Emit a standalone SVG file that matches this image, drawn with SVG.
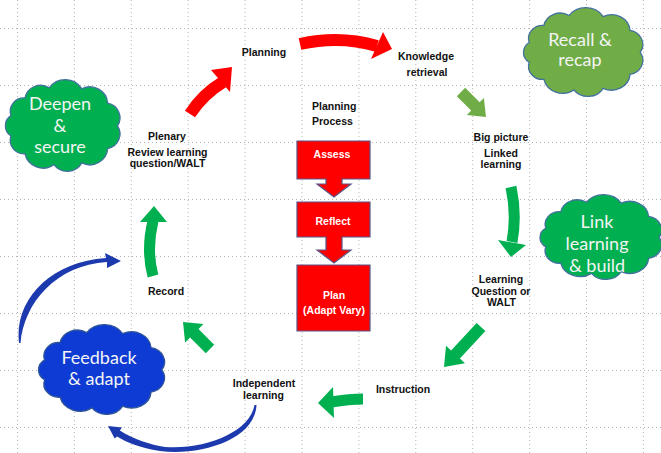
<svg xmlns="http://www.w3.org/2000/svg" xmlns:xlink="http://www.w3.org/1999/xlink" width="661" height="453" viewBox="0 0 661 453">
<style>
.grid line{stroke:#b4b4b4;stroke-width:1;stroke-dasharray:1 3}
.lbl{font-family:"Liberation Sans",Arial,sans-serif;font-weight:bold;font-size:10.5px;fill:#111;text-anchor:middle}
.box{fill:#ff0000;stroke:#5b5486;stroke-width:1.2}
.btxt{font-family:"Liberation Sans",Arial,sans-serif;font-weight:bold;font-size:10.5px;fill:#fff;text-anchor:middle}
.ctxt{font-family:Lato,"Liberation Sans",sans-serif;font-size:18px;fill:#f4f4f4;text-anchor:middle}
.red{fill:#ff0000}
.redl{fill:none;stroke:#ff0000;stroke-width:12}
.grn{fill:#00b050}
.grnl{fill:none;stroke:#00b050;stroke-width:11}
.olv{fill:#70ad47}
.blu{fill:#1c3aae}
</style>
<defs>
<path id="cloud" vector-effect="non-scaling-stroke" d="M92,40 A11.6,11.6 0 0 1 84.4,57.8 A13.8,13.8 0 0 1 64.4,69.1 A13,13 0 0 1 42.7,70.5 A14.4,14.4 0 0 1 20.3,61.9 A10.6,10.6 0 0 1 9.4,48 A9.6,9.6 0 0 1 9.4,32 A10.6,10.6 0 0 1 20.3,18.1 A12.3,12.3 0 0 1 39.1,10.1 A15.2,15.2 0 0 1 64.4,10.9 A13.8,13.8 0 0 1 84.4,22.2 A11.6,11.6 0 0 1 92,40 Z"/>
</defs>
<rect width="661" height="453" fill="#fff"/>
<g class="grid">
<line x1="17.5" y1="0" x2="17.5" y2="453"/><line x1="74.4" y1="0" x2="74.4" y2="453"/><line x1="131.3" y1="0" x2="131.3" y2="453"/><line x1="188.2" y1="0" x2="188.2" y2="453"/><line x1="245.1" y1="0" x2="245.1" y2="453"/><line x1="302" y1="0" x2="302" y2="453"/><line x1="358.9" y1="0" x2="358.9" y2="453"/><line x1="415.8" y1="0" x2="415.8" y2="453"/><line x1="472.7" y1="0" x2="472.7" y2="453"/><line x1="529.6" y1="0" x2="529.6" y2="453"/><line x1="586.5" y1="0" x2="586.5" y2="453"/><line x1="643.4" y1="0" x2="643.4" y2="453"/>
<line x1="0" y1="28.5" x2="661" y2="28.5"/><line x1="0" y1="85.5" x2="661" y2="85.5"/><line x1="0" y1="142.5" x2="661" y2="142.5"/><line x1="0" y1="199.5" x2="661" y2="199.5"/><line x1="0" y1="256.5" x2="661" y2="256.5"/><line x1="0" y1="313.5" x2="661" y2="313.5"/><line x1="0" y1="370.5" x2="661" y2="370.5"/><line x1="0" y1="427.5" x2="661" y2="427.5"/>
</g>
<g id="connectors">
<path class="redl" d="M300,44 Q340,35 377,46"/>
<polygon class="red" points="383,32 392,49 371,59"/>
<path class="redl" d="M190,114 Q203,94 223,82" stroke-width="11"/>
<polygon class="red" points="211,70 232,67 230,92"/>
<polygon class="olv" points="465.2,87.8 479.6,102.2 483.9,97.9 486,117 466.9,114.9 471.2,110.6 456.8,96.2"/>
<path class="grnl" d="M511,187 Q517,215 512,242"/>
<polygon class="grn" points="498,240 526,245 511,257"/>
<polygon class="grn" points="476.6,322.9 451.1,350.4 446,345.7 444,367 465,363.3 459.9,358.6 485.4,331.1"/>
<path class="grnl" d="M363,399 Q350,399 331,402" stroke-width="12"/>
<polygon class="grn" points="333,387 318,403 334,418"/>
<polygon class="grn" points="205.8,353.2 190.1,337.5 185.1,342.5 183,322 203.5,324.1 198.5,329.1 214.2,344.8"/>
<path class="grnl" d="M153,276 Q146,250 153,221"/>
<polygon class="grn" points="140,222 167,222 154,206"/>
<path class="blu" d="M19,343 C14,300 50,262 106,258 L105,253 L121,261 L107,268 L107,262 C56,265 24,303 20.5,343 Z"/>
<path class="blu" d="M256.5,405 C255,440 200,456 160,451 C140,448 126,442 117,436.5 L114.7,438.5 L108,426 L122,427.6 L119.8,430.5 C134,439.5 150,444.5 165,447 C205,450 250,432 254.5,405 Z"/>
</g>
<g id="node-recall">
<use href="#cloud" xlink:href="#cloud" fill="#70ad47" stroke="#41719c" stroke-width="1.3" transform="translate(516.6,3.1) scale(1.344,1.233)"/>
<text class="ctxt" x="580" y="46" font-size="17">Recall &amp;</text>
<text class="ctxt" x="580" y="66" font-size="17">recap</text>
</g>
<g id="node-link">
<use href="#cloud" xlink:href="#cloud" fill="#00b050" stroke="#41719c" stroke-width="1.3" transform="translate(533,190.3) scale(1.37,1.178)"/>
<text class="ctxt" x="597" y="228" font-size="19">Link</text>
<text class="ctxt" x="597" y="250" font-size="19">learning</text>
<text class="ctxt" x="597" y="272" font-size="19">&amp; build</text>
</g>
<g id="node-deepen">
<use href="#cloud" xlink:href="#cloud" fill="#00b050" stroke="#41719c" stroke-width="1.3" transform="translate(-1.2,74.9) scale(1.29,1.274)"/>
<text class="ctxt" x="60" y="110">Deepen</text>
<text class="ctxt" x="60" y="131.5">&amp;</text>
<text class="ctxt" x="60" y="153">secure</text>
</g>
<g id="node-feedback">
<use href="#cloud" xlink:href="#cloud" fill="#0d3bd3" stroke="#2f5597" stroke-width="1.3" transform="translate(31.3,320) scale(1.419,1.247)"/>
<text class="ctxt" x="99" y="364">Feedback</text>
<text class="ctxt" x="99" y="385">&amp; adapt</text>
</g>
<g id="node-planning"><text class="lbl" x="264" y="56">Planning</text></g>
<g id="node-knowledge"><text class="lbl" x="426" y="60">Knowledge</text><text class="lbl" x="427" y="76">retrieval</text></g>
<g id="node-process"><text class="lbl" x="312" y="110" style="text-anchor:start">Planning</text><text class="lbl" x="312" y="125" style="text-anchor:start">Process</text></g>
<g id="node-bigpicture"><text class="lbl" x="501" y="140.5">Big picture</text><text class="lbl" x="501" y="156.5">Linked</text><text class="lbl" x="501" y="168">learning</text></g>
<g id="node-plenary"><text class="lbl" x="167" y="139.5">Plenary</text><text class="lbl" x="167.5" y="156">Review learning</text><text class="lbl" x="167.5" y="167">question/WALT</text></g>
<g id="node-lq"><text class="lbl" x="501" y="283">Learning</text><text class="lbl" x="501" y="294.5">Question or</text><text class="lbl" x="501.5" y="306">WALT</text></g>
<g id="node-record"><text class="lbl" x="166" y="294.5">Record</text></g>
<g id="node-instruction"><text class="lbl" x="403" y="392.5">Instruction</text></g>
<g id="node-independent"><text class="lbl" x="264" y="387">Independent</text><text class="lbl" x="263.5" y="399">learning</text></g>
<g id="node-assess">
<path class="box" d="M297,141 H370 V179 H342 V184 H351 L334,197 L317,184 H326 V179 H297 Z"/>
<text class="btxt" x="332" y="158">Assess</text>
</g>
<g id="node-reflect">
<path class="box" d="M297,202 H370 V237 H342 V250 H351 L334,263 L317,250 H326 V237 H297 Z"/>
<text class="btxt" x="333" y="224.5">Reflect</text>
</g>
<g id="node-plan">
<path class="box" d="M297,265 H370 V331 H297 Z"/>
<text class="btxt" x="334" y="299">Plan</text>
<text class="btxt" x="334" y="314">(Adapt Vary)</text>
</g>
</svg>
